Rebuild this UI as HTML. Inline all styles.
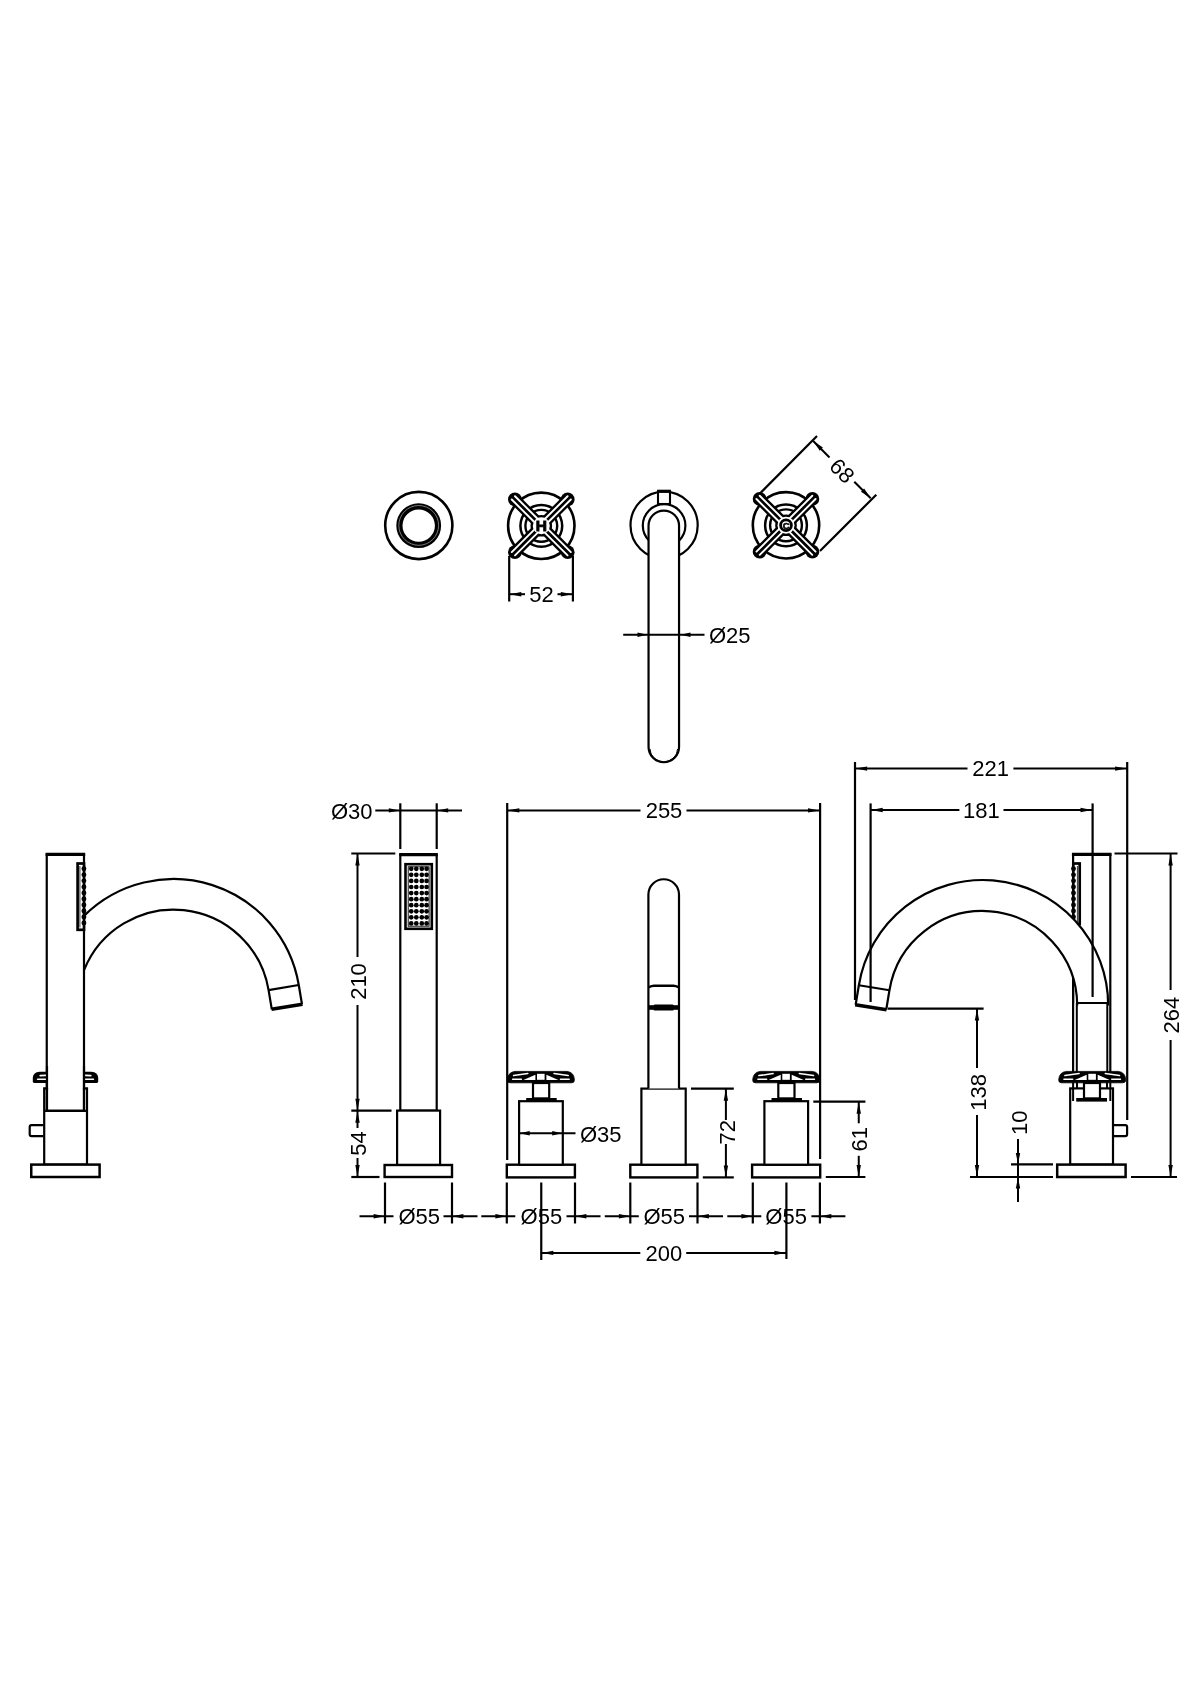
<!DOCTYPE html>
<html><head><meta charset="utf-8"><style>
html,body{margin:0;padding:0;background:#fff;}
svg{display:block;will-change:transform;font-family:"Liberation Sans",sans-serif;}
text{-webkit-font-smoothing:antialiased;}
</style></head><body>
<svg width="1200" height="1698" viewBox="0 0 1200 1698">
<rect x="0" y="0" width="1200" height="1698" fill="#fff"/>
<circle cx="418.8" cy="525.5" r="33.6" stroke="#000" stroke-width="2.6" fill="none"/>
<circle cx="418.7" cy="525.6" r="19.3" stroke="#000" stroke-width="6.2" fill="none"/>
<circle cx="418.7" cy="525.4" r="19.9" stroke="#aaa" stroke-width="0.7" fill="none"/>
<circle cx="541.3" cy="525.8" r="33.2" stroke="#000" stroke-width="2.6" fill="none"/>
<circle cx="541.3" cy="525.8" r="20.9" stroke="#000" stroke-width="2.5" fill="none"/>
<circle cx="541.3" cy="525.8" r="15.9" stroke="#000" stroke-width="2.4" fill="none"/>
<path d="M545.26,521.84 L518.88,495.47 L510.97,503.38 L537.34,529.76 Z" fill="#000"/>
<circle cx="514.92" cy="499.42" r="6.9" fill="#000"/>
<path d="M545.26,529.76 L571.63,503.38 L563.72,495.47 L537.34,521.84 Z" fill="#000"/>
<circle cx="567.68" cy="499.42" r="6.9" fill="#000"/>
<path d="M537.34,529.76 L563.72,556.13 L571.63,548.22 L545.26,521.84 Z" fill="#000"/>
<circle cx="567.68" cy="552.18" r="6.9" fill="#000"/>
<path d="M537.34,521.84 L510.97,548.22 L518.88,556.13 L545.26,529.76 Z" fill="#000"/>
<circle cx="514.92" cy="552.18" r="6.9" fill="#000"/>
<circle cx="541.3" cy="525.8" r="10.8" stroke="#000" stroke-width="0" fill="#000"/>
<line x1="534.02" y1="521.77" x2="511.74" y2="499.5" stroke="#fff" stroke-width="1.9" stroke-linecap="round"/>
<line x1="537.27" y1="518.52" x2="515" y2="496.24" stroke="#fff" stroke-width="1.9" stroke-linecap="round"/>
<line x1="545.33" y1="518.52" x2="567.6" y2="496.24" stroke="#fff" stroke-width="1.9" stroke-linecap="round"/>
<line x1="548.58" y1="521.77" x2="570.86" y2="499.5" stroke="#fff" stroke-width="1.9" stroke-linecap="round"/>
<line x1="548.58" y1="529.83" x2="570.86" y2="552.1" stroke="#fff" stroke-width="1.9" stroke-linecap="round"/>
<line x1="545.33" y1="533.08" x2="567.6" y2="555.36" stroke="#fff" stroke-width="1.9" stroke-linecap="round"/>
<line x1="537.27" y1="533.08" x2="515" y2="555.36" stroke="#fff" stroke-width="1.9" stroke-linecap="round"/>
<line x1="534.02" y1="529.83" x2="511.74" y2="552.1" stroke="#fff" stroke-width="1.9" stroke-linecap="round"/>
<circle cx="541.3" cy="525.8" r="8.5" stroke="#000" stroke-width="0" fill="#fff"/>
<text x="541.4" y="531.4" font-size="15.5" text-anchor="middle" font-weight="bold" stroke="#000" stroke-width="0.9">H</text>
<circle cx="786" cy="525.3" r="33.2" stroke="#000" stroke-width="2.6" fill="none"/>
<circle cx="786" cy="525.3" r="20.9" stroke="#000" stroke-width="2.5" fill="none"/>
<circle cx="786" cy="525.3" r="15.9" stroke="#000" stroke-width="2.4" fill="none"/>
<path d="M789.96,521.34 L763.58,494.97 L755.67,502.88 L782.04,529.26 Z" fill="#000"/>
<circle cx="759.62" cy="498.92" r="6.9" fill="#000"/>
<path d="M789.96,529.26 L816.33,502.88 L808.42,494.97 L782.04,521.34 Z" fill="#000"/>
<circle cx="812.38" cy="498.92" r="6.9" fill="#000"/>
<path d="M782.04,529.26 L808.42,555.63 L816.33,547.72 L789.96,521.34 Z" fill="#000"/>
<circle cx="812.38" cy="551.68" r="6.9" fill="#000"/>
<path d="M782.04,521.34 L755.67,547.72 L763.58,555.63 L789.96,529.26 Z" fill="#000"/>
<circle cx="759.62" cy="551.68" r="6.9" fill="#000"/>
<circle cx="786" cy="525.3" r="10.8" stroke="#000" stroke-width="0" fill="#000"/>
<line x1="778.72" y1="521.27" x2="756.44" y2="499" stroke="#fff" stroke-width="1.9" stroke-linecap="round"/>
<line x1="781.97" y1="518.02" x2="759.7" y2="495.74" stroke="#fff" stroke-width="1.9" stroke-linecap="round"/>
<line x1="790.03" y1="518.02" x2="812.3" y2="495.74" stroke="#fff" stroke-width="1.9" stroke-linecap="round"/>
<line x1="793.28" y1="521.27" x2="815.56" y2="499" stroke="#fff" stroke-width="1.9" stroke-linecap="round"/>
<line x1="793.28" y1="529.33" x2="815.56" y2="551.6" stroke="#fff" stroke-width="1.9" stroke-linecap="round"/>
<line x1="790.03" y1="532.58" x2="812.3" y2="554.86" stroke="#fff" stroke-width="1.9" stroke-linecap="round"/>
<line x1="781.97" y1="532.58" x2="759.7" y2="554.86" stroke="#fff" stroke-width="1.9" stroke-linecap="round"/>
<line x1="778.72" y1="529.33" x2="756.44" y2="551.6" stroke="#fff" stroke-width="1.9" stroke-linecap="round"/>
<circle cx="786" cy="525.3" r="8.5" stroke="#000" stroke-width="0" fill="#fff"/>
<circle cx="786" cy="525.3" r="5.4" stroke="#000" stroke-width="2.8" fill="none"/>
<text x="786.3" y="528.8" font-size="9.5" text-anchor="middle" font-weight="bold" stroke="#000" stroke-width="0.5">C</text>
<circle cx="664.1" cy="525.3" r="33.6" stroke="#000" stroke-width="2.2" fill="none"/>
<circle cx="664.1" cy="525.5" r="21.3" stroke="#000" stroke-width="2.2" fill="none"/>
<rect x="658" y="491.3" width="12" height="12.7" stroke="#000" stroke-width="2.1" fill="#fff"/>
<line x1="657.2" y1="491.3" x2="670.8" y2="491.3" stroke="#000" stroke-width="3.2" stroke-linecap="butt"/>
<path d="M648.55,525.8 A15.25,15.25 0 0 1 679.05,525.8 L679.05,747 A15.25,15.25 0 0 1 648.55,747 Z" stroke="#000" stroke-width="2.2" fill="#fff" />
<path d="M650.05,749 A13.75,12.75 0 0 0 677.55,749" stroke="#000" stroke-width="1.0" fill="none" />
<line x1="509.2" y1="556" x2="509.2" y2="601.5" stroke="#000" stroke-width="2.2" stroke-linecap="butt"/>
<line x1="572.9" y1="556" x2="572.9" y2="601.5" stroke="#000" stroke-width="2.2" stroke-linecap="butt"/>
<line x1="509.2" y1="594.2" x2="525" y2="594.2" stroke="#000" stroke-width="2.0" stroke-linecap="butt"/>
<line x1="557.5" y1="594.2" x2="572.9" y2="594.2" stroke="#000" stroke-width="2.0" stroke-linecap="butt"/>
<path d="M509.8,594.2 L521.3,592 L521.3,596.4 Z" fill="#000"/>
<path d="M572.3,594.2 L560.8,596.4 L560.8,592 Z" fill="#000"/>
<text class="d" x="0" y="0" font-size="22" text-anchor="middle" font-weight="normal" transform="translate(541.6 594.3) rotate(0) translate(0 7.85)">52</text>
<line x1="623.2" y1="634.8" x2="704.5" y2="634.8" stroke="#000" stroke-width="2.0" stroke-linecap="butt"/>
<path d="M647.5,634.8 L637.5,637 L637.5,632.6 Z" fill="#000"/>
<path d="M680.5,634.8 L690.5,632.6 L690.5,637 Z" fill="#000"/>
<text class="d" x="709" y="643" font-size="22" text-anchor="start" font-weight="normal" fill="#000">Ø25</text>
<line x1="759.4" y1="494" x2="817" y2="436" stroke="#000" stroke-width="2.2" stroke-linecap="butt"/>
<line x1="820" y1="551" x2="876.3" y2="494.7" stroke="#000" stroke-width="2.2" stroke-linecap="butt"/>
<line x1="813.2" y1="441" x2="829.5" y2="457.5" stroke="#000" stroke-width="2.0" stroke-linecap="butt"/>
<line x1="854.3" y1="481.7" x2="870.7" y2="498.3" stroke="#000" stroke-width="2.0" stroke-linecap="butt"/>
<path d="M813.2,441 L822.89,447.58 L819.78,450.69 Z" fill="#000"/>
<path d="M870.7,498.3 L861.01,491.72 L864.12,488.61 Z" fill="#000"/>
<text class="d" x="0" y="0" font-size="22" text-anchor="middle" font-weight="normal" transform="translate(842.3 470.7) rotate(45) translate(0 7.85)">68</text>
<line x1="507.2" y1="803" x2="507.2" y2="1160" stroke="#000" stroke-width="2.2" stroke-linecap="butt"/>
<line x1="820.1" y1="803" x2="820.1" y2="1159" stroke="#000" stroke-width="2.2" stroke-linecap="butt"/>
<line x1="507.2" y1="810.4" x2="640.5" y2="810.4" stroke="#000" stroke-width="2.0" stroke-linecap="butt"/>
<line x1="686.5" y1="810.4" x2="820.1" y2="810.4" stroke="#000" stroke-width="2.0" stroke-linecap="butt"/>
<path d="M507.8,810.4 L519.3,808.2 L519.3,812.6 Z" fill="#000"/>
<path d="M819.5,810.4 L808,812.6 L808,808.2 Z" fill="#000"/>
<text class="d" x="0" y="0" font-size="22" text-anchor="middle" font-weight="normal" transform="translate(664 810.3) rotate(0) translate(0 7.85)">255</text>
<rect x="400.3" y="854.8" width="36.4" height="255.9" stroke="#000" stroke-width="2.2" fill="#fff"/>
<line x1="399.2" y1="854.6" x2="437.8" y2="854.6" stroke="#000" stroke-width="3.4" stroke-linecap="butt"/>
<rect x="405.5" y="864.2" width="26.3" height="64.6" stroke="#000" stroke-width="2.6" fill="none"/>
<rect x="408.2" y="866.8" width="20.9" height="59.4" stroke="#000" stroke-width="0.9" fill="none"/>
<circle cx="411.2" cy="868.80" r="2.35" fill="#000"/>
<circle cx="416.3" cy="868.80" r="2.35" fill="#000"/>
<circle cx="421.8" cy="868.80" r="2.35" fill="#000"/>
<circle cx="426.6" cy="868.80" r="2.35" fill="#000"/>
<circle cx="411.2" cy="874.87" r="2.35" fill="#000"/>
<circle cx="416.3" cy="874.87" r="2.35" fill="#000"/>
<circle cx="421.8" cy="874.87" r="2.35" fill="#000"/>
<circle cx="426.6" cy="874.87" r="2.35" fill="#000"/>
<circle cx="411.2" cy="880.94" r="2.35" fill="#000"/>
<circle cx="416.3" cy="880.94" r="2.35" fill="#000"/>
<circle cx="421.8" cy="880.94" r="2.35" fill="#000"/>
<circle cx="426.6" cy="880.94" r="2.35" fill="#000"/>
<circle cx="411.2" cy="887.01" r="2.35" fill="#000"/>
<circle cx="416.3" cy="887.01" r="2.35" fill="#000"/>
<circle cx="421.8" cy="887.01" r="2.35" fill="#000"/>
<circle cx="426.6" cy="887.01" r="2.35" fill="#000"/>
<circle cx="411.2" cy="893.08" r="2.35" fill="#000"/>
<circle cx="416.3" cy="893.08" r="2.35" fill="#000"/>
<circle cx="421.8" cy="893.08" r="2.35" fill="#000"/>
<circle cx="426.6" cy="893.08" r="2.35" fill="#000"/>
<circle cx="411.2" cy="899.15" r="2.35" fill="#000"/>
<circle cx="416.3" cy="899.15" r="2.35" fill="#000"/>
<circle cx="421.8" cy="899.15" r="2.35" fill="#000"/>
<circle cx="426.6" cy="899.15" r="2.35" fill="#000"/>
<circle cx="411.2" cy="905.22" r="2.35" fill="#000"/>
<circle cx="416.3" cy="905.22" r="2.35" fill="#000"/>
<circle cx="421.8" cy="905.22" r="2.35" fill="#000"/>
<circle cx="426.6" cy="905.22" r="2.35" fill="#000"/>
<circle cx="411.2" cy="911.29" r="2.35" fill="#000"/>
<circle cx="416.3" cy="911.29" r="2.35" fill="#000"/>
<circle cx="421.8" cy="911.29" r="2.35" fill="#000"/>
<circle cx="426.6" cy="911.29" r="2.35" fill="#000"/>
<circle cx="411.2" cy="917.36" r="2.35" fill="#000"/>
<circle cx="416.3" cy="917.36" r="2.35" fill="#000"/>
<circle cx="421.8" cy="917.36" r="2.35" fill="#000"/>
<circle cx="426.6" cy="917.36" r="2.35" fill="#000"/>
<circle cx="411.2" cy="923.43" r="2.35" fill="#000"/>
<circle cx="416.3" cy="923.43" r="2.35" fill="#000"/>
<circle cx="421.8" cy="923.43" r="2.35" fill="#000"/>
<circle cx="426.6" cy="923.43" r="2.35" fill="#000"/>
<rect x="397.1" y="1110.6" width="43" height="54.4" stroke="#000" stroke-width="2.2" fill="#fff"/>
<rect x="384.6" y="1165" width="67.4" height="12" stroke="#000" stroke-width="2.4" fill="#fff"/>
<line x1="400.3" y1="803.3" x2="400.3" y2="849" stroke="#000" stroke-width="2.2" stroke-linecap="butt"/>
<line x1="436.7" y1="803.3" x2="436.7" y2="849" stroke="#000" stroke-width="2.2" stroke-linecap="butt"/>
<line x1="375.3" y1="810.4" x2="462" y2="810.4" stroke="#000" stroke-width="2.0" stroke-linecap="butt"/>
<path d="M399.8,810.4 L388.8,812.6 L388.8,808.2 Z" fill="#000"/>
<path d="M437.2,810.4 L448.2,808.2 L448.2,812.6 Z" fill="#000"/>
<text class="d" x="331" y="818.5" font-size="22" text-anchor="start" font-weight="normal" fill="#000">Ø30</text>
<line x1="351.3" y1="853.5" x2="395.3" y2="853.5" stroke="#000" stroke-width="2.2" stroke-linecap="butt"/>
<line x1="351.3" y1="1110.7" x2="391.5" y2="1110.7" stroke="#000" stroke-width="2.2" stroke-linecap="butt"/>
<line x1="351.3" y1="1177" x2="379.5" y2="1177" stroke="#000" stroke-width="2.2" stroke-linecap="butt"/>
<line x1="357.5" y1="853.5" x2="357.5" y2="957" stroke="#000" stroke-width="2.0" stroke-linecap="butt"/>
<line x1="357.5" y1="1005" x2="357.5" y2="1110.7" stroke="#000" stroke-width="2.0" stroke-linecap="butt"/>
<path d="M357.5,854 L359.7,865.5 L355.3,865.5 Z" fill="#000"/>
<path d="M357.5,1110.2 L355.3,1098.7 L359.7,1098.7 Z" fill="#000"/>
<text class="d" x="0" y="0" font-size="22" text-anchor="middle" font-weight="normal" transform="translate(358.6 981.5) rotate(-90) translate(0 7.85)">210</text>
<line x1="357.5" y1="1110.7" x2="357.5" y2="1128" stroke="#000" stroke-width="2.0" stroke-linecap="butt"/>
<line x1="357.5" y1="1158" x2="357.5" y2="1177" stroke="#000" stroke-width="2.0" stroke-linecap="butt"/>
<path d="M357.5,1111.2 L359.7,1122.7 L355.3,1122.7 Z" fill="#000"/>
<path d="M357.5,1176.5 L355.3,1165 L359.7,1165 Z" fill="#000"/>
<text class="d" x="0" y="0" font-size="22" text-anchor="middle" font-weight="normal" transform="translate(358.4 1143.5) rotate(-90) translate(0 7.85)">54</text>
<line x1="385" y1="1182.5" x2="385" y2="1223.5" stroke="#000" stroke-width="2.2" stroke-linecap="butt"/>
<line x1="452" y1="1182.5" x2="452" y2="1223.5" stroke="#000" stroke-width="2.2" stroke-linecap="butt"/>
<line x1="359.5" y1="1216.2" x2="393.5" y2="1216.2" stroke="#000" stroke-width="2.0" stroke-linecap="butt"/>
<line x1="443.5" y1="1216.2" x2="477.5" y2="1216.2" stroke="#000" stroke-width="2.0" stroke-linecap="butt"/>
<path d="M384.6,1216.2 L373.6,1218.4 L373.6,1214 Z" fill="#000"/>
<path d="M452.4,1216.2 L463.4,1214 L463.4,1218.4 Z" fill="#000"/>
<text class="d" x="419.2" y="1224" font-size="22" text-anchor="middle" font-weight="normal" fill="#000">Ø55</text>
<line x1="506.8" y1="1182.5" x2="506.8" y2="1223.5" stroke="#000" stroke-width="2.2" stroke-linecap="butt"/>
<line x1="575" y1="1182.5" x2="575" y2="1223.5" stroke="#000" stroke-width="2.2" stroke-linecap="butt"/>
<line x1="481.3" y1="1216.2" x2="515.3" y2="1216.2" stroke="#000" stroke-width="2.0" stroke-linecap="butt"/>
<line x1="566.5" y1="1216.2" x2="600.5" y2="1216.2" stroke="#000" stroke-width="2.0" stroke-linecap="butt"/>
<path d="M506.4,1216.2 L495.4,1218.4 L495.4,1214 Z" fill="#000"/>
<path d="M575.4,1216.2 L586.4,1214 L586.4,1218.4 Z" fill="#000"/>
<text class="d" x="541.4" y="1224" font-size="22" text-anchor="middle" font-weight="normal" fill="#000">Ø55</text>
<line x1="630.3" y1="1182.5" x2="630.3" y2="1223.5" stroke="#000" stroke-width="2.2" stroke-linecap="butt"/>
<line x1="697.5" y1="1182.5" x2="697.5" y2="1223.5" stroke="#000" stroke-width="2.2" stroke-linecap="butt"/>
<line x1="604.8" y1="1216.2" x2="638.8" y2="1216.2" stroke="#000" stroke-width="2.0" stroke-linecap="butt"/>
<line x1="689" y1="1216.2" x2="723" y2="1216.2" stroke="#000" stroke-width="2.0" stroke-linecap="butt"/>
<path d="M629.9,1216.2 L618.9,1218.4 L618.9,1214 Z" fill="#000"/>
<path d="M697.9,1216.2 L708.9,1214 L708.9,1218.4 Z" fill="#000"/>
<text class="d" x="664.2" y="1224" font-size="22" text-anchor="middle" font-weight="normal" fill="#000">Ø55</text>
<line x1="752.8" y1="1182.5" x2="752.8" y2="1223.5" stroke="#000" stroke-width="2.2" stroke-linecap="butt"/>
<line x1="819.9" y1="1182.5" x2="819.9" y2="1223.5" stroke="#000" stroke-width="2.2" stroke-linecap="butt"/>
<line x1="727.3" y1="1216.2" x2="761.3" y2="1216.2" stroke="#000" stroke-width="2.0" stroke-linecap="butt"/>
<line x1="811.4" y1="1216.2" x2="845.4" y2="1216.2" stroke="#000" stroke-width="2.0" stroke-linecap="butt"/>
<path d="M752.4,1216.2 L741.4,1218.4 L741.4,1214 Z" fill="#000"/>
<path d="M820.3,1216.2 L831.3,1214 L831.3,1218.4 Z" fill="#000"/>
<text class="d" x="786.1" y="1224" font-size="22" text-anchor="middle" font-weight="normal" fill="#000">Ø55</text>
<line x1="541.25" y1="1182.5" x2="541.25" y2="1260" stroke="#000" stroke-width="2.2" stroke-linecap="butt"/>
<line x1="786.4" y1="1182.5" x2="786.4" y2="1259" stroke="#000" stroke-width="2.2" stroke-linecap="butt"/>
<line x1="541.25" y1="1252.9" x2="640.3" y2="1252.9" stroke="#000" stroke-width="2.0" stroke-linecap="butt"/>
<line x1="686.2" y1="1252.9" x2="786.4" y2="1252.9" stroke="#000" stroke-width="2.0" stroke-linecap="butt"/>
<path d="M541.8,1252.9 L553.3,1250.7 L553.3,1255.1 Z" fill="#000"/>
<path d="M785.9,1252.9 L774.4,1255.1 L774.4,1250.7 Z" fill="#000"/>
<text class="d" x="0" y="0" font-size="22" text-anchor="middle" font-weight="normal" transform="translate(663.8 1252.9) rotate(0) translate(0 7.85)">200</text>
<rect x="506.8" y="1164.7" width="68.1" height="12.7" stroke="#000" stroke-width="2.4" fill="#fff"/>
<rect x="519.1" y="1101.2" width="43.7" height="63.5" stroke="#000" stroke-width="2.2" fill="#fff"/>
<rect x="533" y="1083" width="16.2" height="15.4" stroke="#000" stroke-width="2.2" fill="#fff"/>
<rect x="526.2" y="1098" width="30.5" height="3.4" fill="#000"/>
<path d="M510,1082.8 L571.5,1082.8 Q574.6,1082.8 574.4,1079.5 Q574,1072.2 567,1071.4 L515,1071.4 Q508,1072.2 507.4,1079.5 Q507.2,1082.8 510,1082.8 Z" stroke="#000" stroke-width="0.8" fill="#000" />
<rect x="537" y="1073.8" width="7.6" height="6.0" fill="#fff"/>
<path d="M523.4,1080 L535.4,1074.8 L535.4,1080 Z M558.4,1080 L546.4,1074.8 L546.4,1080 Z" fill="#fff"/>
<line x1="513.6" y1="1075.6" x2="527.8" y2="1073.6" stroke="#fff" stroke-width="1.5" stroke-linecap="round"/>
<line x1="554" y1="1073.6" x2="568.2" y2="1075.6" stroke="#fff" stroke-width="1.5" stroke-linecap="round"/>
<line x1="512.6" y1="1079.3" x2="521.4" y2="1079.3" stroke="#fff" stroke-width="1.4" stroke-linecap="round"/>
<line x1="560.4" y1="1079.3" x2="569.2" y2="1079.3" stroke="#fff" stroke-width="1.4" stroke-linecap="round"/>
<rect x="752.1" y="1164.7" width="68.1" height="12.7" stroke="#000" stroke-width="2.4" fill="#fff"/>
<rect x="764.4" y="1101.2" width="43.7" height="63.5" stroke="#000" stroke-width="2.2" fill="#fff"/>
<rect x="778.3" y="1083" width="16.2" height="15.4" stroke="#000" stroke-width="2.2" fill="#fff"/>
<rect x="771.5" y="1098" width="30.5" height="3.4" fill="#000"/>
<path d="M755.3,1082.8 L816.8,1082.8 Q819.9,1082.8 819.7,1079.5 Q819.3,1072.2 812.3,1071.4 L760.3,1071.4 Q753.3,1072.2 752.7,1079.5 Q752.5,1082.8 755.3,1082.8 Z" stroke="#000" stroke-width="0.8" fill="#000" />
<rect x="782.3" y="1073.8" width="7.6" height="6.0" fill="#fff"/>
<path d="M768.7,1080 L780.7,1074.8 L780.7,1080 Z M803.7,1080 L791.7,1074.8 L791.7,1080 Z" fill="#fff"/>
<line x1="758.9" y1="1075.6" x2="773.1" y2="1073.6" stroke="#fff" stroke-width="1.5" stroke-linecap="round"/>
<line x1="799.3" y1="1073.6" x2="813.5" y2="1075.6" stroke="#fff" stroke-width="1.5" stroke-linecap="round"/>
<line x1="757.9" y1="1079.3" x2="766.7" y2="1079.3" stroke="#fff" stroke-width="1.4" stroke-linecap="round"/>
<line x1="805.7" y1="1079.3" x2="814.5" y2="1079.3" stroke="#fff" stroke-width="1.4" stroke-linecap="round"/>
<line x1="519.1" y1="1133.2" x2="575.5" y2="1133.2" stroke="#000" stroke-width="2.0" stroke-linecap="butt"/>
<path d="M519.7,1133.2 L529.7,1131 L529.7,1135.4 Z" fill="#000"/>
<path d="M562.2,1133.2 L552.2,1135.4 L552.2,1131 Z" fill="#000"/>
<text class="d" x="580" y="1141.5" font-size="22" text-anchor="start" font-weight="normal" fill="#000">Ø35</text>
<rect x="630.3" y="1164.7" width="67.1" height="12.7" stroke="#000" stroke-width="2.4" fill="#fff"/>
<rect x="641.4" y="1088.6" width="44.3" height="76.1" stroke="#000" stroke-width="2.2" fill="#fff"/>
<path d="M648.4000000000001,1088.6 L648.4000000000001,894.5 A15.3,15.3 0 0 1 679.0,894.5 L679.0,1088.6" stroke="#000" stroke-width="2.2" fill="#fff" />
<path d="M648.4000000000001,987.3 Q652.4000000000001,985.6 654.4000000000001,985.8 L673.0,985.8 Q675.0,985.6 679.0,987.3" stroke="#000" stroke-width="2.4" fill="none" />
<rect x="653.4" y="1004.4" width="20.6" height="6.2" rx="1.5" fill="#000"/>
<rect x="648.4" y="1005.2" width="30.6" height="4.6" fill="#000"/>
<line x1="691" y1="1088.7" x2="733.8" y2="1088.7" stroke="#000" stroke-width="2.2" stroke-linecap="butt"/>
<line x1="702.8" y1="1177.4" x2="733.8" y2="1177.4" stroke="#000" stroke-width="2.2" stroke-linecap="butt"/>
<line x1="725.9" y1="1088.7" x2="725.9" y2="1120" stroke="#000" stroke-width="2.0" stroke-linecap="butt"/>
<line x1="725.9" y1="1144" x2="725.9" y2="1177.4" stroke="#000" stroke-width="2.0" stroke-linecap="butt"/>
<path d="M725.9,1089.2 L728.1,1100.7 L723.7,1100.7 Z" fill="#000"/>
<path d="M725.9,1176.9 L723.7,1165.4 L728.1,1165.4 Z" fill="#000"/>
<text class="d" x="0" y="0" font-size="22" text-anchor="middle" font-weight="normal" transform="translate(727.4 1132.2) rotate(-90) translate(0 7.85)">72</text>
<line x1="813.3" y1="1101.7" x2="865.4" y2="1101.7" stroke="#000" stroke-width="2.2" stroke-linecap="butt"/>
<line x1="825.8" y1="1177" x2="865.4" y2="1177" stroke="#000" stroke-width="2.2" stroke-linecap="butt"/>
<line x1="858.75" y1="1101.7" x2="858.75" y2="1123.3" stroke="#000" stroke-width="2.0" stroke-linecap="butt"/>
<line x1="858.75" y1="1155.8" x2="858.75" y2="1177" stroke="#000" stroke-width="2.0" stroke-linecap="butt"/>
<path d="M858.75,1102.2 L860.95,1113.7 L856.55,1113.7 Z" fill="#000"/>
<path d="M858.75,1176.5 L856.55,1165 L860.95,1165 Z" fill="#000"/>
<text class="d" x="0" y="0" font-size="22" text-anchor="middle" font-weight="normal" transform="translate(859.5 1139.2) rotate(-90) translate(0 7.85)">61</text>
<path d="M84,915.9 A127.0,127.0 0 0 1 298.76,985.04 L301.98,1004.27" stroke="#000" stroke-width="2.2" fill="none" />
<path d="M84,970.19 A96.4,96.4 0 0 1 268.58,990.09 L271.8,1009.32" stroke="#000" stroke-width="2.2" fill="none" />
<line x1="268.58" y1="990.09" x2="298.76" y2="985.04" stroke="#000" stroke-width="2.2" stroke-linecap="butt"/>
<line x1="271.5" y1="1009.32" x2="302.48" y2="1004.27" stroke="#000" stroke-width="3.6" stroke-linecap="butt"/>
<rect x="46.75" y="854.6" width="37.25" height="256.2" stroke="#000" stroke-width="2.2" fill="none"/>
<line x1="45.6" y1="854.4" x2="85.2" y2="854.4" stroke="#000" stroke-width="3.4" stroke-linecap="butt"/>
<rect x="77.6" y="863.5" width="6.4" height="66.3" stroke="#000" stroke-width="2.7" fill="#fff"/>
<line x1="79.9" y1="866" x2="79.9" y2="927.5" stroke="#000" stroke-width="0.8" stroke-linecap="butt"/>
<circle cx="83.9" cy="868.80" r="2.45" fill="#000"/>
<circle cx="83.9" cy="874.83" r="2.45" fill="#000"/>
<circle cx="83.9" cy="880.86" r="2.45" fill="#000"/>
<circle cx="83.9" cy="886.89" r="2.45" fill="#000"/>
<circle cx="83.9" cy="892.92" r="2.45" fill="#000"/>
<circle cx="83.9" cy="898.95" r="2.45" fill="#000"/>
<circle cx="83.9" cy="904.98" r="2.45" fill="#000"/>
<circle cx="83.9" cy="911.01" r="2.45" fill="#000"/>
<circle cx="83.9" cy="917.04" r="2.45" fill="#000"/>
<circle cx="83.9" cy="923.07" r="2.45" fill="#000"/>
<path d="M44.2,1088.4 L47,1088.4 M84,1088.4 L87,1088.4 M44.2,1087.3 L44.2,1164.6 L87,1164.6 L87,1087.3 M44.2,1110.8 L87,1110.8" stroke="#000" stroke-width="2.2" fill="none" />
<line x1="47" y1="1088" x2="47" y2="1110.8" stroke="#000" stroke-width="2.2" stroke-linecap="butt"/>
<line x1="84" y1="1088" x2="84" y2="1110.8" stroke="#000" stroke-width="2.2" stroke-linecap="butt"/>
<rect x="31.25" y="1164.6" width="68.35" height="12.4" stroke="#000" stroke-width="2.5" fill="#fff"/>
<path d="M43.3,1125.2 L31.5,1125.2 Q29.7,1125.2 29.7,1127 L29.7,1134.3 Q29.7,1136.1 31.5,1136.1 L43.3,1136.1" stroke="#000" stroke-width="2.2" fill="none" />
<path d="M46.8,1071.8 L39.5,1071.8 Q33.2,1072.2 32.8,1077.8 L32.8,1081.6 Q32.8,1082.9 34.2,1082.9 L46.8,1082.9 Z" stroke="#000" stroke-width="0" fill="#000" />
<path d="M84.2,1071.8 L91.5,1071.8 Q97.8,1072.2 98.2,1077.8 L98.2,1081.6 Q98.2,1082.9 96.8,1082.9 L84.2,1082.9 Z" stroke="#000" stroke-width="0" fill="#000" />
<line x1="40.2" y1="1075.6" x2="45.6" y2="1075.4" stroke="#fff" stroke-width="1.7" stroke-linecap="round"/>
<line x1="37.6" y1="1079.3" x2="45.6" y2="1079.3" stroke="#fff" stroke-width="1.6" stroke-linecap="round"/>
<line x1="85.4" y1="1075.4" x2="90.8" y2="1075.6" stroke="#fff" stroke-width="1.7" stroke-linecap="round"/>
<line x1="85.4" y1="1079.3" x2="93.4" y2="1079.3" stroke="#fff" stroke-width="1.6" stroke-linecap="round"/>
<line x1="47" y1="1066" x2="47" y2="1090" stroke="#000" stroke-width="2.2" stroke-linecap="butt"/>
<line x1="84" y1="1066" x2="84" y2="1090" stroke="#000" stroke-width="2.2" stroke-linecap="butt"/>
<path d="M1073.1,1003 L1073.1,854.6 L1110.3,854.6 L1110.3,1003" stroke="#000" stroke-width="2.2" fill="none" />
<line x1="1071.9" y1="854.4" x2="1111.5" y2="854.4" stroke="#000" stroke-width="3.4" stroke-linecap="butt"/>
<rect x="1073.3" y="863.5" width="6.4" height="60.5" stroke="#000" stroke-width="2.7" fill="#fff"/>
<line x1="1077.4" y1="866" x2="1077.4" y2="922" stroke="#000" stroke-width="0.8" stroke-linecap="butt"/>
<circle cx="1073.5" cy="868.80" r="2.45" fill="#000"/>
<circle cx="1073.5" cy="874.83" r="2.45" fill="#000"/>
<circle cx="1073.5" cy="880.86" r="2.45" fill="#000"/>
<circle cx="1073.5" cy="886.89" r="2.45" fill="#000"/>
<circle cx="1073.5" cy="892.92" r="2.45" fill="#000"/>
<circle cx="1073.5" cy="898.95" r="2.45" fill="#000"/>
<circle cx="1073.5" cy="904.98" r="2.45" fill="#000"/>
<circle cx="1073.5" cy="911.01" r="2.45" fill="#000"/>
<circle cx="1073.5" cy="917.04" r="2.45" fill="#000"/>
<circle cx="1073.5" cy="923.07" r="2.45" fill="#000"/>
<path d="M855.65,1004.76 L858.85,985.22 A125.5,125.5 0 0 1 1108.2,1005.5 L1077.2,1005.5 A94.5,94.5 0 0 0 889.44,990.23 L886.24,1009.77 Z" stroke="#000" stroke-width="0" fill="#fff" />
<path d="M855.65,1004.76 L858.85,985.22 A125.5,125.5 0 0 1 1108.2,1005.5" stroke="#000" stroke-width="2.2" fill="none" />
<path d="M886.24,1009.77 L889.44,990.23 A94.5,94.5 0 0 1 1077.2,1005.5" stroke="#000" stroke-width="2.2" fill="none" />
<line x1="889.44" y1="990.23" x2="858.85" y2="985.22" stroke="#000" stroke-width="2.2" stroke-linecap="butt"/>
<line x1="886.54" y1="1009.77" x2="855.15" y2="1004.76" stroke="#000" stroke-width="3.6" stroke-linecap="butt"/>
<line x1="1077" y1="1003" x2="1107.5" y2="1003" stroke="#000" stroke-width="2.0" stroke-linecap="butt"/>
<line x1="1073.1" y1="990" x2="1073.1" y2="1072" stroke="#000" stroke-width="2.2" stroke-linecap="butt"/>
<line x1="1076.8" y1="1003" x2="1076.8" y2="1072" stroke="#000" stroke-width="2.0" stroke-linecap="butt"/>
<line x1="1107.3" y1="1003" x2="1107.3" y2="1072" stroke="#000" stroke-width="2.0" stroke-linecap="butt"/>
<line x1="1110.3" y1="1003" x2="1110.3" y2="1072" stroke="#000" stroke-width="2.2" stroke-linecap="butt"/>
<line x1="1073.1" y1="1082.5" x2="1073.1" y2="1088.4" stroke="#000" stroke-width="2.0" stroke-linecap="butt"/>
<line x1="1077" y1="1082.5" x2="1077" y2="1088.4" stroke="#000" stroke-width="2.0" stroke-linecap="butt"/>
<line x1="1107" y1="1082.5" x2="1107" y2="1088.4" stroke="#000" stroke-width="2.0" stroke-linecap="butt"/>
<line x1="1110.3" y1="1082.5" x2="1110.3" y2="1088.4" stroke="#000" stroke-width="2.0" stroke-linecap="butt"/>
<rect x="1070.2" y="1088.4" width="42.8" height="76.2" stroke="#000" stroke-width="2.2" fill="#fff"/>
<rect x="1084" y="1083" width="16" height="15.4" stroke="#000" stroke-width="2.2" fill="#fff"/>
<line x1="1073.1" y1="1088.4" x2="1073.1" y2="1101" stroke="#000" stroke-width="2.0" stroke-linecap="butt"/>
<line x1="1110.3" y1="1088.4" x2="1110.3" y2="1101" stroke="#000" stroke-width="2.0" stroke-linecap="butt"/>
<rect x="1076.2" y="1098" width="30.8" height="3.6" fill="#000"/>
<rect x="1057.2" y="1164.6" width="68.4" height="12.4" stroke="#000" stroke-width="2.5" fill="#fff"/>
<path d="M1113.5,1125.2 L1125.3,1125.2 Q1127.1,1125.2 1127.1,1127 L1127.1,1134.3 Q1127.1,1136.1 1125.3,1136.1 L1113.5,1136.1" stroke="#000" stroke-width="2.2" fill="none" />
<path d="M1061.3,1082.8 L1122.8,1082.8 Q1125.9,1082.8 1125.7,1079.5 Q1125.3,1072.2 1118.3,1071.4 L1066.3,1071.4 Q1059.3,1072.2 1058.7,1079.5 Q1058.5,1082.8 1061.3,1082.8 Z" stroke="#000" stroke-width="0.8" fill="#000" />
<rect x="1088.3" y="1073.8" width="7.6" height="6.0" fill="#fff"/>
<path d="M1074.7,1080 L1086.7,1074.8 L1086.7,1080 Z M1109.7,1080 L1097.7,1074.8 L1097.7,1080 Z" fill="#fff"/>
<line x1="1064.9" y1="1075.6" x2="1079.1" y2="1073.6" stroke="#fff" stroke-width="1.5" stroke-linecap="round"/>
<line x1="1105.3" y1="1073.6" x2="1119.5" y2="1075.6" stroke="#fff" stroke-width="1.5" stroke-linecap="round"/>
<line x1="1063.9" y1="1079.3" x2="1072.7" y2="1079.3" stroke="#fff" stroke-width="1.4" stroke-linecap="round"/>
<line x1="1111.7" y1="1079.3" x2="1120.5" y2="1079.3" stroke="#fff" stroke-width="1.4" stroke-linecap="round"/>
<line x1="855" y1="762" x2="855" y2="1000" stroke="#000" stroke-width="2.2" stroke-linecap="butt"/>
<line x1="1127.2" y1="762" x2="1127.2" y2="1120" stroke="#000" stroke-width="2.2" stroke-linecap="butt"/>
<line x1="855" y1="768.6" x2="967.5" y2="768.6" stroke="#000" stroke-width="2.0" stroke-linecap="butt"/>
<line x1="1013.4" y1="768.6" x2="1127.2" y2="768.6" stroke="#000" stroke-width="2.0" stroke-linecap="butt"/>
<path d="M855.6,768.6 L867.1,766.4 L867.1,770.8 Z" fill="#000"/>
<path d="M1126.6,768.6 L1115.1,770.8 L1115.1,766.4 Z" fill="#000"/>
<text class="d" x="0" y="0" font-size="22" text-anchor="middle" font-weight="normal" transform="translate(990.7 768.6) rotate(0) translate(0 7.85)">221</text>
<line x1="870.6" y1="803.4" x2="870.6" y2="1002" stroke="#000" stroke-width="2.2" stroke-linecap="butt"/>
<line x1="1092.6" y1="803.4" x2="1092.6" y2="997" stroke="#000" stroke-width="2.2" stroke-linecap="butt"/>
<line x1="870.6" y1="810" x2="959.4" y2="810" stroke="#000" stroke-width="2.0" stroke-linecap="butt"/>
<line x1="1003.5" y1="810" x2="1092.6" y2="810" stroke="#000" stroke-width="2.0" stroke-linecap="butt"/>
<path d="M871.2,810 L882.7,807.8 L882.7,812.2 Z" fill="#000"/>
<path d="M1092,810 L1080.5,812.2 L1080.5,807.8 Z" fill="#000"/>
<text class="d" x="0" y="0" font-size="22" text-anchor="middle" font-weight="normal" transform="translate(981.3 810) rotate(0) translate(0 7.85)">181</text>
<line x1="1114.5" y1="853.5" x2="1177.5" y2="853.5" stroke="#000" stroke-width="2.2" stroke-linecap="butt"/>
<line x1="1131" y1="1177" x2="1177" y2="1177" stroke="#000" stroke-width="2.2" stroke-linecap="butt"/>
<line x1="1170.6" y1="853.5" x2="1170.6" y2="990" stroke="#000" stroke-width="2.0" stroke-linecap="butt"/>
<line x1="1170.6" y1="1040" x2="1170.6" y2="1177" stroke="#000" stroke-width="2.0" stroke-linecap="butt"/>
<path d="M1170.6,854 L1172.8,865.5 L1168.4,865.5 Z" fill="#000"/>
<path d="M1170.6,1176.5 L1168.4,1165 L1172.8,1165 Z" fill="#000"/>
<text class="d" x="0" y="0" font-size="22" text-anchor="middle" font-weight="normal" transform="translate(1171.4 1015.2) rotate(-90) translate(0 7.85)">264</text>
<line x1="888" y1="1008.6" x2="983.6" y2="1008.6" stroke="#000" stroke-width="2.2" stroke-linecap="butt"/>
<line x1="970" y1="1177" x2="1053" y2="1177" stroke="#000" stroke-width="2.2" stroke-linecap="butt"/>
<line x1="977" y1="1008.6" x2="977" y2="1068" stroke="#000" stroke-width="2.0" stroke-linecap="butt"/>
<line x1="977" y1="1115" x2="977" y2="1177" stroke="#000" stroke-width="2.0" stroke-linecap="butt"/>
<path d="M977,1009.1 L979.2,1020.6 L974.8,1020.6 Z" fill="#000"/>
<path d="M977,1176.5 L974.8,1165 L979.2,1165 Z" fill="#000"/>
<text class="d" x="0" y="0" font-size="22" text-anchor="middle" font-weight="normal" transform="translate(978 1092.3) rotate(-90) translate(0 7.85)">138</text>
<line x1="1011" y1="1164.4" x2="1053" y2="1164.4" stroke="#000" stroke-width="2.2" stroke-linecap="butt"/>
<line x1="1018" y1="1139" x2="1018" y2="1202" stroke="#000" stroke-width="2.0" stroke-linecap="butt"/>
<path d="M1018,1163.9 L1015.8,1152.9 L1020.2,1152.9 Z" fill="#000"/>
<path d="M1018,1177.5 L1020.2,1188.5 L1015.8,1188.5 Z" fill="#000"/>
<text class="d" x="0" y="0" font-size="22" text-anchor="middle" font-weight="normal" transform="translate(1019 1122.8) rotate(-90) translate(0 7.85)">10</text>
</svg></body></html>
